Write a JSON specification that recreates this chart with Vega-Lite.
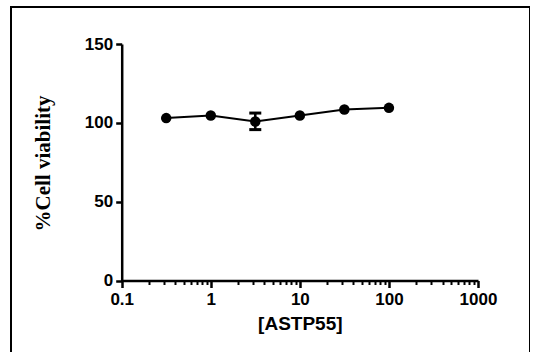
{
  "$schema": "https://vega.github.io/schema/vega-lite/v6.json",
  "autosize": "none",
  "padding": {"left": 11, "top": 7, "right": 0, "bottom": 0},
  "width": 519,
  "height": 347,
  "background": "white",
  "config": {
    "view": {"stroke": "black", "strokeWidth": 2},
    "axis": {
      "grid": false,
      "domainColor": "black",
      "domainWidth": 2.5,
      "tickColor": "black",
      "labelColor": "black",
      "titleColor": "black",
      "labelFont": "Liberation Sans",
      "labelFontWeight": "bold",
      "labelFontSize": 17
    }
  },
  "data": {
    "values": [
      {"conc": 0.316, "via": 103.0},
      {"conc": 1, "via": 104.7},
      {"conc": 3.16, "via": 100.8, "lo": 95.7, "hi": 106.2},
      {"conc": 10, "via": 104.7},
      {"conc": 31.6, "via": 108.5},
      {"conc": 100, "via": 109.5}
    ]
  },
  "layer": [
    {
      "mark": {"type": "line", "color": "black", "strokeWidth": 2},
      "encoding": {
        "x": {
          "field": "conc",
          "type": "quantitative",
          "scale": {"type": "log", "domain": [0.1, 1000], "range": [110.7, 467], "nice": false},
          "axis": {
            "orient": "bottom",
            "offset": -73.5,
            "values": [0.1,0.2,0.3,0.4,0.5,0.6,0.7,0.8,0.9,1,2,3,4,5,6,7,8,9,10,20,30,40,50,60,70,80,90,100,200,300,400,500,600,700,800,900,1000],
            "format": "~g",
            "labelExpr": "indexof([0.1,1,10,100,1000], datum.value) >= 0 ? datum.label : ''",
            "labelOverlap": false,
            "labelFlush": false,
            "labelPadding": 4,
            "tickSize": {"condition": {"test": "indexof([0.1,1,10,100,1000], datum.value) >= 0", "value": 7}, "value": 4},
            "tickWidth": {"condition": {"test": "indexof([0.1,1,10,100,1000], datum.value) >= 0", "value": 2.5}, "value": 2},
            "title": "[ASTP55]",
            "titleFont": "Liberation Sans",
            "titleFontWeight": "bold",
            "titleFontSize": 19,
            "titleBaseline": "alphabetic",
            "titleY": 49
          }
        },
        "y": {
          "field": "via",
          "type": "quantitative",
          "scale": {"domain": [0, 150], "range": [273.5, 37], "nice": false, "zero": true},
          "axis": {
            "orient": "left",
            "offset": -110.7,
            "values": [0, 50, 100, 150],
            "format": "d",
            "tickSize": 6,
            "tickWidth": 2.5,
            "labelPadding": 3,
            "title": "%Cell viability",
            "titleFont": "Liberation Serif",
            "titleFontWeight": "bold",
            "titleFontSize": 21,
            "titleAngle": -90,
            "titleBaseline": "alphabetic",
            "titleX": -72.7,
            "titleY": 156
          }
        }
      }
    },
    {
      "transform": [{"filter": "isValid(datum.lo)"}],
      "mark": {"type": "rule", "color": "black", "strokeWidth": 2.5},
      "encoding": {
        "x": {"field": "conc", "type": "quantitative"},
        "y": {"field": "lo", "type": "quantitative"},
        "y2": {"field": "hi"}
      }
    },
    {
      "transform": [{"filter": "isValid(datum.lo)"}],
      "mark": {"type": "tick", "orient": "horizontal", "color": "black", "size": 12, "thickness": 3, "opacity": 1},
      "encoding": {
        "x": {"field": "conc", "type": "quantitative"},
        "y": {"field": "lo", "type": "quantitative"}
      }
    },
    {
      "transform": [{"filter": "isValid(datum.hi)"}],
      "mark": {"type": "tick", "orient": "horizontal", "color": "black", "size": 12, "thickness": 3, "opacity": 1},
      "encoding": {
        "x": {"field": "conc", "type": "quantitative"},
        "y": {"field": "hi", "type": "quantitative"}
      }
    },
    {
      "mark": {"type": "point", "filled": true, "color": "black", "size": 110, "opacity": 1},
      "encoding": {
        "x": {"field": "conc", "type": "quantitative"},
        "y": {"field": "via", "type": "quantitative"}
      }
    }
  ]
}
